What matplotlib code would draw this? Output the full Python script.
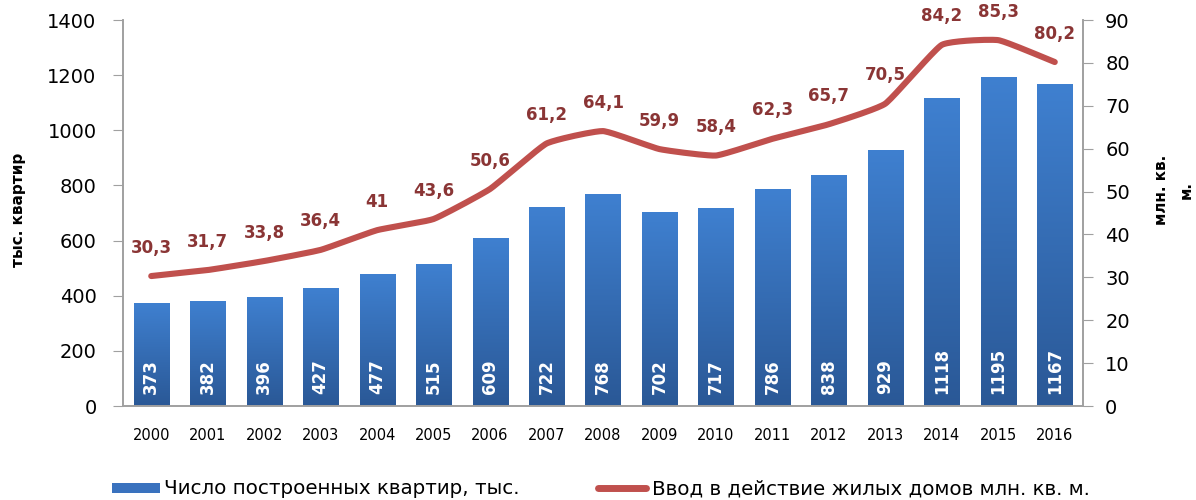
import numpy as np
import matplotlib
matplotlib.use("Agg")
import matplotlib.pyplot as plt
from matplotlib.patches import Rectangle
from matplotlib.lines import Line2D

years = ["2000", "2001", "2002", "2003", "2004", "2005", "2006", "2007", "2008",
         "2009", "2010", "2011", "2012", "2013", "2014", "2015", "2016"]
flats = [373, 382, 396, 427, 477, 515, 609, 722, 768, 702, 717, 786, 838, 929,
         1118, 1195, 1167]
area = [30.3, 31.7, 33.8, 36.4, 41, 43.6, 50.6, 61.2, 64.1, 59.9, 58.4, 62.3,
        65.7, 70.5, 84.2, 85.3, 80.2]
area_labels = ["30,3", "31,7", "33,8", "36,4", "41", "43,6", "50,6", "61,2", "64,1",
               "59,9", "58,4", "62,3", "65,7", "70,5", "84,2", "85,3", "80,2"]
legend_labels = ["Число построенных квартир, тыс.",
                 "Ввод в действие жилых домов млн. кв. м."]

plt.rcParams['font.family'] = ['DejaVu Sans']

BLUE = "#3A72BE"
RED = "#C0504D"
LABEL_RED = "#8A3535"
GRID_GREY = "#A0A0A0"

W, H = 1196, 500
fig = plt.figure(figsize=(W / 100, H / 100), dpi=100)
ax = fig.add_axes([123 / W, 1 - 406 / H, 960 / W, 386 / H])
ax2 = ax.twinx()

x = np.arange(len(years))
bar_w = 0.62

# gradient-filled bars
grad = np.linspace(0, 1, 256).reshape(-1, 1)
top_c = np.array([0x3F, 0x80, 0xD0]) / 255
bot_c = np.array([0x2A, 0x58, 0x96]) / 255
img = (bot_c[None, None, :] * (1 - grad[:, :, None]) + top_c[None, None, :] * grad[:, :, None])
bars = ax.bar(x, flats, width=bar_w, color="none", zorder=2)
for b in bars:
    x0, w, h = b.get_x(), b.get_width(), b.get_height()
    im = ax.imshow(img, extent=[x0, x0 + w, 0, h], origin="lower", aspect="auto", zorder=2)
    im.set_clip_path(Rectangle((x0, 0), w, h, transform=ax.transData))
    ax.text(x0 + w / 2, 45, str(int(h)), rotation=90, ha="center", va="bottom",
            color="white", fontsize=12, fontweight="bold", zorder=4)

ax.set_xlim(-0.5, len(years) - 0.5)
ax.set_ylim(0, 1400)
ax.set_yticks(range(0, 1401, 200))
ax.set_xticks(x)
ax.set_xticklabels(years, fontsize=10.5)
ax.tick_params(axis="x", length=0, pad=16)
ax.tick_params(axis="y", labelsize=14, length=7, color=GRID_GREY, pad=12)

for a in (ax, ax2):
    a.spines["top"].set_visible(False)
    for s in ["left", "right", "bottom"]:
        a.spines[s].set_color(GRID_GREY)
        a.spines[s].set_linewidth(1.2)


# gently smoothed curve through the data points (cardinal spline, reduced tension)
def smooth(xs, ys, n=20, k=0.2):
    xs = np.asarray(xs, float)
    ys = np.asarray(ys, float)
    px = np.concatenate([[2 * xs[0] - xs[1]], xs, [2 * xs[-1] - xs[-2]]])
    py = np.concatenate([[2 * ys[0] - ys[1]], ys, [2 * ys[-1] - ys[-2]]])
    ox, oy = [], []
    t = np.linspace(0, 1, n, endpoint=False)
    h00 = 2 * t ** 3 - 3 * t ** 2 + 1
    h10 = t ** 3 - 2 * t ** 2 + t
    h01 = -2 * t ** 3 + 3 * t ** 2
    h11 = t ** 3 - t ** 2
    for i in range(1, len(px) - 2):
        for P, out in ((px, ox), (py, oy)):
            m1 = k * (P[i + 1] - P[i - 1])
            m2 = k * (P[i + 2] - P[i])
            out.extend(h00 * P[i] + h10 * m1 + h01 * P[i + 1] + h11 * m2)
    ox.append(xs[-1])
    oy.append(ys[-1])
    return np.array(ox), np.array(oy)


sx, sy = smooth(x, area)
ax2.plot(sx, sy, color=RED, lw=4.4, solid_capstyle="round", zorder=5)
for xi, yi, lab in zip(x, area, area_labels):
    ax2.annotate(lab, (xi, yi), xytext=(0, 14), textcoords="offset points",
                 ha="center", va="bottom", fontsize=12, fontweight="bold",
                 color=LABEL_RED)

ax2.set_ylim(0, 90)
ax2.set_yticks(range(0, 91, 10))
ax2.tick_params(axis="y", labelsize=14, length=7, color=GRID_GREY, pad=9)
ax.set_zorder(1)
ax2.set_zorder(2)
ax2.patch.set_visible(False)

# axis titles
fig.text(19 / W, 1 - 210 / H, "тыс. квартир", rotation=90, ha="center", va="center",
         fontsize=11, fontweight="bold")
fig.text(1174 / W, 1 - 190 / H, "млн. кв.\nм.", rotation=90, ha="center", va="center",
         fontsize=11, fontweight="bold", linespacing=1.8, multialignment="center")

# legend below the axes
fig.patches.append(Rectangle((112 / W, 1 - 493 / H), 48 / W, 10 / H,
                             transform=fig.transFigure, facecolor=BLUE,
                             edgecolor="none"))
fig.text(164 / W, 1 - 489 / H, legend_labels[0], fontsize=14.3,
         va="center", ha="left")
fig.lines.append(Line2D([598 / W, 646 / W], [1 - 488 / H, 1 - 488 / H],
                        transform=fig.transFigure, color=RED, lw=5,
                        solid_capstyle="round"))
fig.text(652 / W, 1 - 489 / H, legend_labels[1], fontsize=14.3,
         va="center", ha="left")

fig.savefig("out.png", dpi=100)
